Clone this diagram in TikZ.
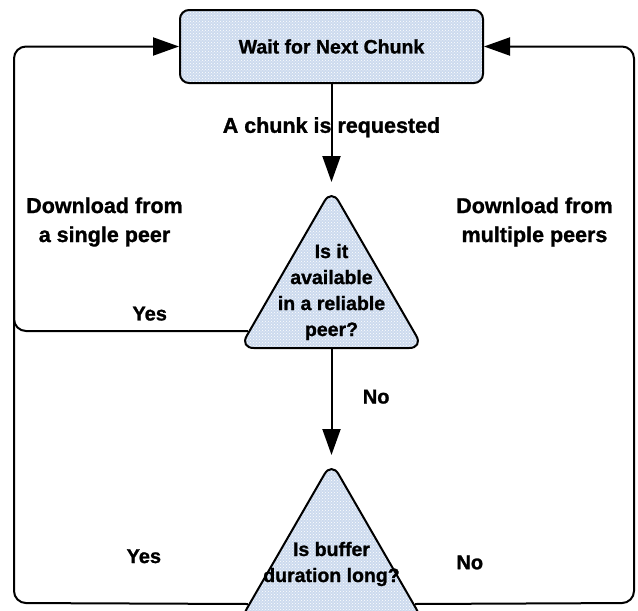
\documentclass[tikz,border=0pt]{standalone}
\usepackage{fontspec}
\setmainfont{Liberation Sans}[BoldFeatures={FakeBold=1.2}]
\usetikzlibrary{positioning,shapes.geometric,arrows.meta,patterns}

\definecolor{chunkblue}{RGB}{204,218,238}
\tikzset{
	cell/.style={preaction={fill=chunkblue}, pattern=crosshatch dots, pattern color=white, draw, line width=2pt},
	waitbox/.style={cell, rectangle, rounded corners=9pt, minimum width=303pt, minimum height=73pt, font=\bfseries\fontsize{19.5}{24}\selectfont},
	decide/.style={cell, regular polygon, regular polygon sides=3, minimum size=212pt, inner sep=0pt, rounded corners=14pt},
	ask/.style={align=center, font=\bfseries\fontsize{19.5}{26}\selectfont},
	lbl/.style={align=center, font=\bfseries\fontsize{21.5}{29}\selectfont},
	ans/.style={font=\bfseries\fontsize{20}{24}\selectfont},
	flow/.style={line width=2pt, ->},
	loop/.style={line width=2pt, rounded corners=12pt}
}

\begin{document}
\begin{tikzpicture}[x=1pt, y=1pt, node distance=2cm, on grid, >={Triangle[length=26pt,width=18pt]}]
	\useasboundingbox (0,0) rectangle (638,-611);
	\node[waitbox] (box) at (331.5,-46.5) {Wait for Next Chunk};
	\node[decide] (avail) [below=248.5pt of box] {};
	\node[decide] (buffer) [below=273pt of avail] {};
	\node[ask] (availq) at ([yshift=3pt]avail.center) {Is it\\available\\in a reliable\\peer?};
	\node[ask] (bufferq) at ([yshift=4pt]buffer.center) {Is buffer\\duration long?};
	\node[lbl] (single) [above left=73pt and 227pt of avail] {Download from\\a single peer};
	\node[lbl] (multi) [above right=73pt and 203pt of avail] {Download from\\multiple peers};
	\coordinate (lftup) at (14,-300);
	\coordinate (lbot) at (14,-603);
	\coordinate (rbot) at (634,-603);
	\path[flow, shorten >=5pt]
		(box) edge node[lbl, pos=0.42] {A chunk is requested} (avail.corner 1)
		(avail.side 2) edge node[ans, pos=0.43, right=27pt] {No} (buffer.corner 1);
	\draw[loop] ([shift={(10pt,18pt)}]avail.corner 2) -| node[ans, pos=0.21, above=6pt] {Yes} (lftup);
	\draw[loop, ->] ([shift={(10pt,18pt)}]buffer.corner 2) -- node[ans, pos=0.445, above=36pt] {Yes} (lbot) |- (box.west);
	\draw[loop, ->] ([shift={(-10pt,18pt)}]buffer.corner 3) -- node[ans, pos=0.25, above=30pt] {No} (rbot) |- (box.east);
\end{tikzpicture}
\end{document}
